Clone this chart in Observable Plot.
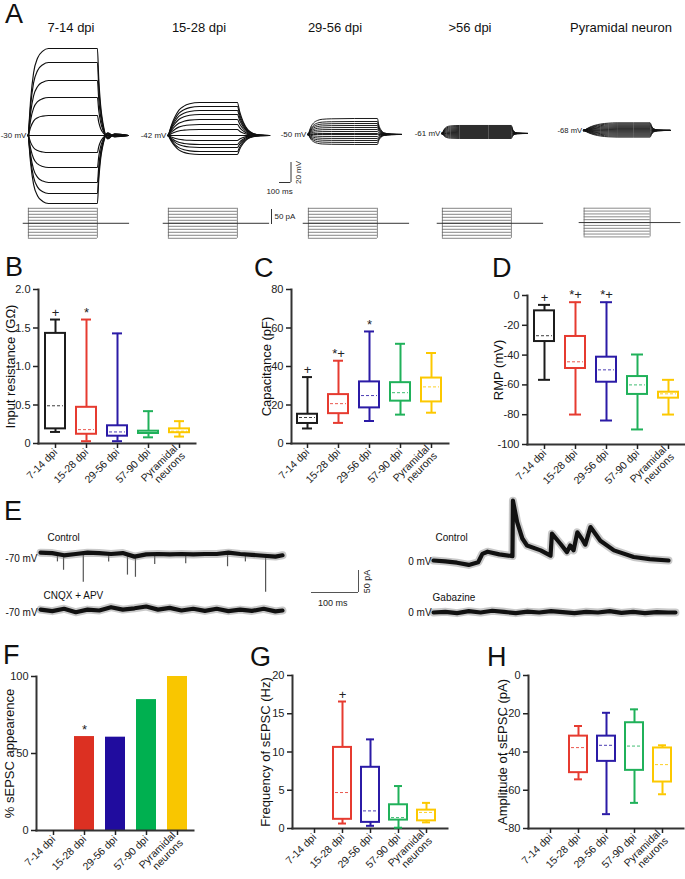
<!DOCTYPE html>
<html><head><meta charset="utf-8">
<script src="https://cdn.jsdelivr.net/npm/d3@7"></script>
<script src="https://cdn.jsdelivr.net/npm/@observablehq/plot@0.6"></script>
<style>
body{margin:0;background:#fff;}
#fig{position:relative;width:685px;height:879px;overflow:hidden;font-family:"Liberation Sans",Arial,sans-serif;color:#111;}
.abs{position:absolute;}
.letter{position:absolute;font-size:27px;line-height:20px;}
.title{position:absolute;font-size:13px;line-height:13px;transform:translate(-50%,-50%);white-space:nowrap;}
svg{overflow:visible}
</style>
</head><body><div id="fig"></div>
<script>
// ---------------- DATA ----------------
const categories = ["7-14 dpi","15-28 dpi","29-56 dpi","57-90 dpi","Pyramidal\nneurons"];
const boxColors = ["#1c1c1c","#e63b30","#2b1ba6","#20b15a","#fcc800"];
const barColors = ["#111111","#dc3022","#200c9e","#00b050","#f9c600"];

// box stats per category: [min, q1, median, q3, max]
const inputResistance = [[0.15,0.19,0.49,1.43,1.61],[0.03,0.12,0.18,0.47,1.61],[0.03,0.095,0.15,0.23,1.43],[0.08,0.13,0.14,0.16,0.42],[0.09,0.14,0.16,0.19,0.29]];
const resistanceMarks = ["+","*","","",""];
const capacitance = [[7.8,10.4,13.5,15.2,34.5],[10.7,15.5,20.7,25.4,43],[11.7,18.5,24.9,32,58.2],[15,22,26.4,31.6,51.8],[16,21.6,29.4,34,47]];
const capacitanceMarks = ["+","*+","*","",""];
const restingPotential = [[-56.6,-30.9,-27,-10.3,-6.3],[-79.9,-49,-44.5,-27.5,-4.5],[-83.9,-58.2,-49.9,-41.4,-4.5],[-89.9,-66.4,-60,-54.4,-39.6],[-79.9,-68.9,-66,-64.9,-56.6]];
const rmpMarks = ["+","*+","*+","",""];
const sepscAppearance = [0,61,60.6,85,100];
const appearanceMarks = ["","*","","",""];
const sepscFrequency = [null,[0.65,1.2,4.7,10.6,16.6],[0.35,0.8,2.3,8.0,11.65],[0.1,1.1,1.43,3.1,5.55],[0.8,1.0,2.1,2.4,3.35]];
const frequencyMarks = ["","+","","",""];
const sepscAmplitude = [null,[-54.3,-50.8,-37.7,-31.7,-26.4],[-72.5,-44.9,-36.5,-31.7,-19.5],[-66.6,-49.6,-36.9,-24.7,-17.7],[-62.1,-55.7,-46.6,-37.9,-36.5]];

// Panel A: voltage responses (mV relative to rest) to current steps
const cellTitles = ["7-14 dpi","15-28 dpi","29-56 dpi",">56 dpi","Pyramidal neuron"];
const restLabels = ["-30 mV","-42 mV","-50 mV","-61 mV","-68 mV"];
const sweepLevels = [
  [87,73,55,38,20,0,-17,-32,-47,-58,-68],
  [33,29,25,21,16,11,6,0,-5,-9,-12,-16,-19],
  [16,13,11,9,7,5,3,1,0,-2,-4,-6,-8,-10],
  [8,7,6,5,4,3,2,1,0,-1,-2,-3,-4,-5],
  [8,7,6,5,4,3,2,1,0,-1,-2,-3,-4,-5,-6,-7]
];
// time course (ms) and fraction of steady-state deflection
const shapeTimes = [
  [0,20,45,80,125,175,300,450,600,612,628,650,690,750,870],
  [0,25,55,90,135,185,270,450,600,620,650,690,740,800,880],
  [0,20,45,80,120,200,400,600,612,630,660,720,810],
  [0,15,35,70,150,400,600,610,625,650,740],
  [0,40,90,150,220,300,450,600,612,630,670,780]
];
const shapeFractions = [
  [0,0.42,0.72,0.89,0.97,1,1,1,1,0.65,0.35,0.13,-0.04,0.02,0],
  [0,0.3,0.55,0.76,0.89,0.96,1,1,1,0.72,0.42,0.18,0.06,0.01,0],
  [0,0.45,0.72,0.88,0.95,0.98,1,1,0.6,0.3,0.1,0.02,0],
  [0,0.5,0.8,0.94,1,1,1,0.55,0.22,0.05,0],
  [0,0.35,0.64,0.84,0.95,1,1,1,0.6,0.25,0.05,0]
];
const stepCurrents = [-50,-40,-30,-20,-10,0,10,20,30,40,50];
const stepDuration = 600;
const holdingSpan = [-45, 880];

// Panel E: sEPSC/sIPSC recordings (pA relative to holding current)
const eTimes = [0,25,50,75,100,125,150,175,200,225,250,275,300,325,350,375,400,425,450,475,500,515];
const controlNeg70 = [6,5,0,3,6,5,3,5,-3,2,3,2,3,2,3,3,6,3,1,-1,-3,0];
const controlNeg70Events = [[36,-15],[49,-34],[91,-61],[145,-15],[185,-45],[202,-50],[243,-21],[309,-19],[398,-26],[436,-15],[479,-84]];
const cnqxApv = [2,-1.5,4,-4,2,0,7.5,2,5,9,2,6,0,4,-1,4,-1.5,2,-1,4,-2,0];
const controlZeroTimes = [0,25,50,75,95,104,115,140,168,169,178,189,199,228,249,252,270,284,291,298,306,316,323,334,355,384,426,460,500];
const controlZero = [0,-2,-5,-10,-4,15,20,14,10,136,87,50,34,23,11,61,38,19,34,23,64,49,36,76,45,23,8,3,0];
const gabazine = [0,1.5,-1.5,3,0,4,1.5,-1.5,2,0,3,1,-1.5,1.5,0,3,-1,1.5,-1.5,1,0,0];

// ---------------- LAYOUT ----------------
const FONT = "Liberation Sans, Arial, sans-serif";
const fig = document.getElementById("fig");
function place(node, left, top) {
  const d = document.createElement("div");
  d.className = "abs"; d.style.left = left + "px"; d.style.top = top + "px";
  d.appendChild(node); fig.appendChild(d); return d;
}
function htmlText(cls, text, left, top) {
  const d = document.createElement("div");
  d.className = cls; d.textContent = text; d.style.left = left + "px"; d.style.top = top + "px";
  fig.appendChild(d);
}
const baseStyle = {background: "none", overflow: "visible", fontFamily: FONT, color: "#111"};

// panel letters (top = cap top)
[["A",5,4],["B",5,257],["C",254,258],["D",492,258],["E",4,501],["F",3,645],["G",250,647],["H",487,647]]
  .forEach(([t,x,y]) => htmlText("letter", t, x, y));

// ---------- Panel A ----------
const kA = 0.115;            // px per ms
const vA = 1.0;              // px per mV
const cellLeft = [28,168,308,442,584];
const cellBase = [135,135,134,133,134];
const titleX = [71,199,335,470,621];
const traceWidth = [1.15,1.1,0.95,0.9,0.9];
const xDomA = [-60, 920];
cellTitles.forEach((t,i) => htmlText("title", t, titleX[i], 27));

sweepLevels.forEach((levels, c) => {
  const rows = [];
  levels.forEach((lvl, s) => shapeTimes[c].forEach((t, j) => rows.push({sweep: s, t, v: lvl * shapeFractions[c][j]})));
  const yDom = [-75, 95];
  const traces = Plot.plot({
    width: (xDomA[1]-xDomA[0])*kA, height: (yDom[1]-yDom[0])*vA, margin: 0,
    x: {domain: xDomA, axis: null}, y: {domain: yDom, axis: null}, style: baseStyle,
    marks: [
      Plot.line(rows, {x: "t", y: "v", z: "sweep", stroke: "#111", strokeWidth: traceWidth[c], curve: "monotone-x"}),
      Plot.dot([0], {x: 0, y: 0, r: 1.4, fill: "#111"}),
      Plot.text([restLabels[c]], {x: 0, y: 0, text: d => d, textAnchor: "end", dx: -2, fontSize: 8, fill: "#222"})
    ]
  });
  place(traces, cellLeft[c] + xDomA[0]*kA, cellBase[c] - yDom[1]*vA);

  const iDom = [-56, 56], kI = 0.3;
  const steps = Plot.plot({
    width: (xDomA[1]-xDomA[0])*kA, height: (iDom[1]-iDom[0])*kI, margin: 0,
    x: {domain: xDomA, axis: null}, y: {domain: iDom, axis: null}, style: baseStyle,
    marks: [
      Plot.ruleY(stepCurrents, {y: d => d, x1: 0, x2: stepDuration, stroke: "#666", strokeWidth: 0.8}),
      Plot.ruleX([0, stepDuration], {y1: stepCurrents[0], y2: stepCurrents[stepCurrents.length-1], stroke: "#666", strokeWidth: 0.8}),
      Plot.ruleY([0], {x1: holdingSpan[0], x2: holdingSpan[1], stroke: "#333", strokeWidth: 1})
    ]
  });
  place(steps, cellLeft[c] + xDomA[0]*kA, 223 - iDom[1]*kI);
});

// Panel A scale bars
place(Plot.plot({
  width: 100*kA, height: 20*vA, margin: 0, x: {domain: [0,100], axis: null}, y: {domain: [0,20], axis: null}, style: baseStyle,
  marks: [
    Plot.ruleY([0], {x1: 0, x2: 100, stroke: "#333", strokeWidth: 1}),
    Plot.ruleX([100], {y1: 0, y2: 20, stroke: "#333", strokeWidth: 1}),
    Plot.text(["100 ms"], {x: 0, y: 0, text: d => d, dy: 9, fontSize: 8, fill: "#222"}),
    Plot.text(["20 mV"], {x: 100, y: 10, text: d => d, rotate: -90, dx: 7, fontSize: 8, fill: "#222"})
  ]
}), 279, 162);
place(Plot.plot({
  width: 10, height: 50*0.3, margin: 0, x: {domain: [0,10], axis: null}, y: {domain: [0,50], axis: null}, style: baseStyle,
  marks: [
    Plot.ruleX([0], {y1: 0, y2: 50, stroke: "#333", strokeWidth: 1}),
    Plot.text(["50 pA"], {x: 0, y: 28, text: d => d, dx: 3, textAnchor: "start", fontSize: 8, fill: "#222"})
  ]
}), 271, 209);

// ---------- Panel E ----------
const kE = 0.47, pE = 0.44;
function eTrace(times, values, events, yDom, left, base, labels) {
  const rows = times.map((t,i) => ({t, v: values[i]}));
  const xDom = [0, times[times.length-1]];
  const node = Plot.plot({
    width: (xDom[1]-xDom[0])*kE, height: (yDom[1]-yDom[0])*pE, margin: 0,
    x: {domain: xDom, axis: null}, y: {domain: yDom, axis: null}, style: baseStyle,
    marks: [
      Plot.ruleX(events, {x: d => d[0], y1: 0, y2: d => d[1], stroke: "#555", strokeWidth: 1.2}),
      Plot.line(rows, {x: "t", y: "v", stroke: "#888", strokeOpacity: 0.45, strokeWidth: 8}),
      Plot.line(rows, {x: "t", y: "v", stroke: "#111", strokeWidth: 4.2}),
      ...labels.map(([txt, anchor, dx, dy]) => Plot.text([txt], {x: 0, y: 0, text: d => d, textAnchor: anchor, dx, dy, fontSize: 10, fill: "#111"}))
    ]
  });
  place(node, left, base - yDom[1]*pE);
}
eTrace(eTimes, controlNeg70, controlNeg70Events, [-90,20], 40, 555, [["-70 mV","end",-3,3],["Control","start",7,-18]]);
eTrace(eTimes, cnqxApv, [], [-25,25], 40, 610, [["-70 mV","end",-3,2],["CNQX + APV","start",3,-15]]);
eTrace(controlZeroTimes, controlZero, [], [-20,150], 433, 560, [["0 mV","end",-2,1],["Control","start",2,-23]]);
eTrace(eTimes, gabazine, [], [-25,25], 433, 612, [["0 mV","end",-2,0],["Gabazine","start",-1,-15]]);
place(Plot.plot({
  width: 100*kE, height: 50*pE, margin: 0, x: {domain: [0,100], axis: null}, y: {domain: [0,50], axis: null}, style: baseStyle,
  marks: [
    Plot.ruleY([0], {x1: 0, x2: 100, stroke: "#555", strokeWidth: 1}),
    Plot.ruleX([100], {y1: 0, y2: 50, stroke: "#555", strokeWidth: 1}),
    Plot.text(["100 ms"], {x: 45, y: 0, text: d => d, dy: 11, fontSize: 9, fill: "#222"}),
    Plot.text(["50 pA"], {x: 100, y: 25, text: d => d, rotate: -90, dx: 9, fontSize: 9, fill: "#222"})
  ]
}), 311, 570);

// ---------- Box / bar panels ----------
function axesMarks({ticks, tickFormat, label, labelDx}) {
  return [
    Plot.frame({anchor: "left", stroke: "#333", strokeWidth: 2}),
    Plot.frame({anchor: "bottom", stroke: "#333", strokeWidth: 2}),
    Plot.axisY({ticks, tickFormat, tickSize: 5, tickPadding: 3, fontSize: 11, color: "#222", strokeWidth: 1.5, label: null}),
    Plot.axisX({tickRotate: -45, tickSize: 5, tickPadding: 2, fontSize: 10.5, color: "#222", strokeWidth: 1.5, label: null}),
    Plot.text([label], {frameAnchor: "left", text: d => d, rotate: -90, textAnchor: "middle", dx: labelDx, fontSize: 13, fill: "#111"})
  ];
}
function boxPanel(o) {
  const rows = o.stats.map((s,i) => s ? {cat: categories[i], min: s[0], q1: s[1], med: s[2], q3: s[3], max: s[4], color: boxColors[i], mark: o.marks ? o.marks[i] : ""} : null).filter(Boolean);
  const node = Plot.plot({
    width: o.w, height: o.h, marginLeft: o.ml, marginTop: o.mt, marginBottom: o.mb, marginRight: o.mr,
    style: baseStyle,
    x: {domain: categories, paddingInner: o.pi, paddingOuter: o.po},
    y: {domain: o.domain},
    color: {type: "identity"},
    marks: [
      ...axesMarks(o),
      Plot.ruleX(rows, {x: "cat", y1: "min", y2: "max", stroke: "color", strokeWidth: 2}),
      Plot.barY(rows, {x: "cat", y1: "q1", y2: "q3", fill: "white", stroke: "color", strokeWidth: 2}),
      Plot.tickY(rows, {x: "cat", y: "med", stroke: "color", strokeOpacity: 0.85, strokeWidth: 1, strokeDasharray: "3,2", insetLeft: 2, insetRight: 2}),
      Plot.tickY(rows, {x: "cat", y: "min", stroke: "color", strokeWidth: 2, insetLeft: o.cap, insetRight: o.cap}),
      Plot.tickY(rows, {x: "cat", y: "max", stroke: "color", strokeWidth: 2, insetLeft: o.cap, insetRight: o.cap}),
      Plot.text(rows.filter(d => d.mark), {x: "cat", y: "max", text: "mark", dy: -7, fontSize: 13, fill: "#222"})
    ]
  });
  place(node, o.left, o.top);
}
const fmt1 = d => d === 0 ? "0" : d.toFixed(1);
const fmt0 = d => String(d);

boxPanel({stats: inputResistance, marks: resistanceMarks, domain: [0,2], ticks: [0,0.5,1,1.5,2], tickFormat: fmt1,
  label: "Input resistance (GΩ)", labelDx: -28, w: 240, h: 210, left: 0, top: 280, ml: 38, mt: 9, mb: 47, mr: 45, pi: 0.36, po: 0.18, cap: 5});
boxPanel({stats: capacitance, marks: capacitanceMarks, domain: [0,80], ticks: [0,20,40,60,80], tickFormat: fmt0,
  label: "Capacitance (pF)", labelDx: -25, w: 230, h: 210, left: 230, top: 280, ml: 61, mt: 9, mb: 47, mr: 12, pi: 0.34, po: 0.17, cap: 5});
boxPanel({stats: restingPotential, marks: rmpMarks, domain: [-100,0], ticks: [0,-20,-40,-60,-80,-100], tickFormat: fmt0,
  label: "RMP (mV)", labelDx: -29, w: 230, h: 210, left: 455, top: 280, ml: 72, mt: 15, mb: 46, mr: 0, pi: 0.35, po: 0.175, cap: 4});

// Panel F bars
{
  const rows = sepscAppearance.map((v,i) => ({cat: categories[i], value: v, color: barColors[i], mark: appearanceMarks[i]}));
  const node = Plot.plot({
    width: 240, height: 259, marginLeft: 36, marginTop: 56, marginBottom: 49, marginRight: 47,
    style: baseStyle,
    x: {domain: categories, paddingInner: 0.36, paddingOuter: 0.18},
    y: {domain: [0,100]},
    color: {type: "identity"},
    marks: [
      Plot.barY(rows.filter(d => d.value > 0), {x: "cat", y: "value", fill: "color"}),
      ...axesMarks({ticks: [0,50,100], tickFormat: fmt0, label: "% sEPSC appearence", labelDx: -27}),
      Plot.text(rows.filter(d => d.mark), {x: "cat", y: "value", text: "mark", dy: -7, fontSize: 13, fill: "#222"})
    ]
  });
  place(node, 0, 620);
}
boxPanel({stats: sepscFrequency, marks: frequencyMarks, domain: [0,20], ticks: [0,5,10,15,20], tickFormat: fmt0,
  label: "Frequency of sEPSC (Hz)", labelDx: -27, w: 230, h: 259, left: 230, top: 620, ml: 62, mt: 55, mb: 51, mr: 13, pi: 0.37, po: 0.4, cap: 5});
boxPanel({stats: sepscAmplitude, marks: null, domain: [-80,0], ticks: [0,-20,-40,-60,-80], tickFormat: fmt0,
  label: "Amplitude of sEPSC (pA)", labelDx: -26, w: 230, h: 259, left: 455, top: 620, ml: 73, mt: 55, mb: 51, mr: 2, pi: 0.36, po: 0.375, cap: 5});
</script></body></html>
